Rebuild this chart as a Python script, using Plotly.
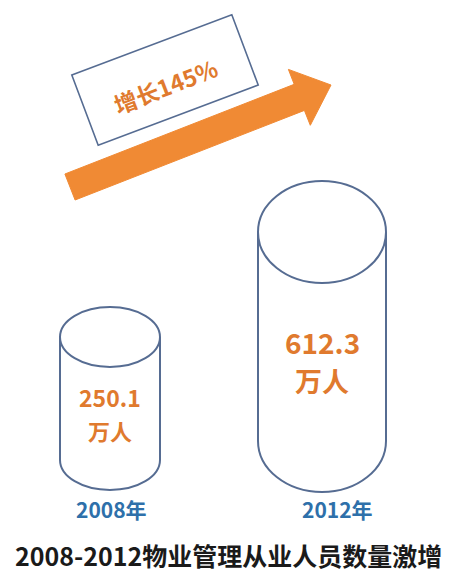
import math
import plotly.graph_objects as go

# ---- data ----
years = ["2008年", "2012年"]
values = [250.1, 612.3]
unit = "万人"
growth_label = "增长145%"
title_text = "2008-2012物业管理从业人员数量激增"

# ---- geometry (pixel canvas) ----
W, H = 452, 573
cyl_cx = [110, 322]
cyl_rx = [50, 64]
cyl_ry = [30, 51]
cyl_top = [337, 232]
cyl_bot = [460, 441]
value_y = [397, 342]
unit_y = [430, 380]
value_size = [22, 27]
year_x = [111, 337]
year_y = 509

STROKE = "#566C92"
ORANGE = "#E07A2E"
ARROW = "#F08A34"
BLUE = "#2E70AA"
FONT = "Noto Sans CJK SC"
K = 0.5523

def ellipse_path(cx, cy, rx, ry):
    return (f"M {cx-rx},{cy} "
            f"C {cx-rx},{cy-K*ry} {cx-K*rx},{cy-ry} {cx},{cy-ry} "
            f"C {cx+K*rx},{cy-ry} {cx+rx},{cy-K*ry} {cx+rx},{cy} "
            f"C {cx+rx},{cy+K*ry} {cx+K*rx},{cy+ry} {cx},{cy+ry} "
            f"C {cx-K*rx},{cy+ry} {cx-rx},{cy+K*ry} {cx-rx},{cy} Z")

def body_path(cx, top, bot, rx, ry):
    return (f"M {cx-rx},{top} L {cx-rx},{bot} "
            f"C {cx-rx},{bot+K*ry} {cx-K*rx},{bot+ry} {cx},{bot+ry} "
            f"C {cx+K*rx},{bot+ry} {cx+rx},{bot+K*ry} {cx+rx},{bot} "
            f"L {cx+rx},{top}")

shapes = []
for i in range(len(values)):
    shapes.append(dict(type="path", path=body_path(cyl_cx[i], cyl_top[i], cyl_bot[i], cyl_rx[i], cyl_ry[i]),
                       line=dict(color=STROKE, width=2), xref="x", yref="y"))
    shapes.append(dict(type="path", path=ellipse_path(cyl_cx[i], cyl_top[i], cyl_rx[i], cyl_ry[i]),
                       line=dict(color=STROKE, width=2), fillcolor="white", xref="x", yref="y"))

# arrow
tail = (70, 187)
tip = (331, 85)
dx, dy = tip[0]-tail[0], tip[1]-tail[1]
L = math.hypot(dx, dy)
u = (dx/L, dy/L)
n = (-u[1], u[0])
hw, hh, hl = 14, 30, 34
def pt(base, a, b):
    return (base[0] + u[0]*a + n[0]*b, base[1] + u[1]*a + n[1]*b)
pts = [pt(tail, 0, -hw), pt(tip, -hl, -hw), pt(tip, -hl, -hh), tip,
       pt(tip, -hl, hh), pt(tip, -hl, hw), pt(tail, 0, hw)]
apath = "M " + " L ".join(f"{x:.1f},{y:.1f}" for x, y in pts) + " Z"
shapes.append(dict(type="path", path=apath, fillcolor=ARROW, line=dict(color=ARROW, width=1),
                   xref="x", yref="y"))

# rotated box
bc = (165, 80)
bw, bh = 171, 75
ang = math.radians(-20.6)
bu = (math.cos(ang), math.sin(ang))
bn = (-bu[1], bu[0])
corners = []
for a, b in [(-1, -1), (1, -1), (1, 1), (-1, 1)]:
    corners.append((bc[0] + bu[0]*a*bw/2 + bn[0]*b*bh/2, bc[1] + bu[1]*a*bw/2 + bn[1]*b*bh/2))
bpath = "M " + " L ".join(f"{x:.1f},{y:.1f}" for x, y in corners) + " Z"
shapes.append(dict(type="path", path=bpath, fillcolor="white", line=dict(color=STROKE, width=1.6),
                   xref="x", yref="y"))

annotations = []
annotations.append(dict(x=165, y=86, text=growth_label, textangle=-21, showarrow=False,
                        font=dict(family=FONT, size=23, color=ORANGE, weight="bold")))
for i in range(len(values)):
    annotations.append(dict(x=cyl_cx[i], y=value_y[i], text=f"{values[i]}", showarrow=False,
                            font=dict(family=FONT, size=value_size[i] + 1, color=ORANGE, weight="bold")))
    annotations.append(dict(x=cyl_cx[i], y=unit_y[i], text=unit, showarrow=False,
                            font=dict(family=FONT, size=value_size[i], color=ORANGE, weight="bold")))
    annotations.append(dict(x=year_x[i], y=year_y, text=years[i], showarrow=False,
                            font=dict(family=FONT, size=21, color=BLUE, weight="bold")))
annotations.append(dict(x=W/2 + 2, y=555, text=title_text, showarrow=False,
                        font=dict(family=FONT, size=25, color="#1a1a1a", weight="bold")))

fig = go.Figure()
fig.update_layout(
    width=W, height=H, margin=dict(l=0, r=0, t=0, b=0),
    paper_bgcolor="white", plot_bgcolor="white",
    xaxis=dict(range=[0, W], visible=False, fixedrange=True),
    yaxis=dict(range=[H, 0], visible=False, fixedrange=True),
    shapes=shapes, annotations=annotations, showlegend=False,
)
fig.write_html("out.html")
